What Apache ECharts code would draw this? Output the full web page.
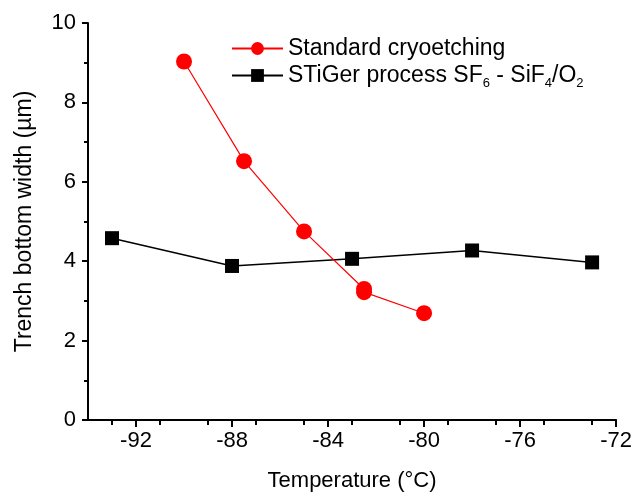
<!DOCTYPE html>
<html><head><meta charset="utf-8">
<script src="https://cdn.jsdelivr.net/npm/echarts@6/dist/echarts.min.js"></script>
<style>html,body{margin:0;padding:0;background:#fff}#c{width:635px;height:497px}</style>
</head><body><div id="c"></div>
<script>
var stdTemp = [-90, -87.5, -85, -82.5, -82.5, -80];
var stdWidth = [9.03, 6.52, 4.75, 3.3, 3.22, 2.69];
var stigerTemp = [-93, -88, -83, -78, -73];
var stigerWidth = [4.58, 3.88, 4.06, 4.27, 3.97];
var xTicks = [-92, -88, -84, -80, -76, -72];
var yTicks = [0, 2, 4, 6, 8, 10];

var font = '"Liberation Sans", Arial, sans-serif';
var chart = echarts.init(document.getElementById('c'));
function pair(xs, ys){ return xs.map(function(x,i){ return [x, ys[i]]; }); }
chart.setOption({
  animation: false,
  backgroundColor: '#fff',
  grid: {left: 88, right: 18, top: 23, bottom: 75},
  legend: {
    orient: 'vertical', left: 226, top: 32, itemWidth: 51, itemHeight: 16, itemGap: 4,
    textStyle: {fontFamily: font, fontSize: 23, color: '#000',
      rich: {a: {fontFamily: font, fontSize: 23, color: '#000'},
             s: {fontFamily: font, fontSize: 13, color: '#000', padding: [15, 0, 0, 0]}}},
    formatter: function(n){
      if (n === 'STiGer') return '{a|STiGer process SF}{s|6}{a| - SiF}{s|4}{a|/O}{s|2}';
      return '{a|' + n + '}';
    },
    data: ['Standard cryoetching', 'STiGer']
  },
  xAxis: {
    type: 'value', min: -94, max: -72, interval: 4,
    name: 'Temperature (°C)', nameLocation: 'middle', nameGap: 50,
    nameTextStyle: {fontFamily: font, fontSize: 22, color: '#000'},
    axisLine: {onZero: false, lineStyle: {color: '#000', width: 2}},
    axisTick: {show: true, length: 7, inside: false, lineStyle: {color: '#000', width: 2},
      customValues: xTicks},
    minorTick: {show: true, splitNumber: 4, length: 5, lineStyle: {color: '#000', width: 2}},
    axisLabel: {fontFamily: font, fontSize: 22, color: '#000', margin: 10, customValues: xTicks},
    splitLine: {show: false}
  },
  yAxis: {
    type: 'value', min: 0, max: 10, interval: 2,
    name: 'Trench bottom width (µm)', nameLocation: 'middle', nameGap: 52,
    nameTextStyle: {fontFamily: font, fontSize: 23, color: '#000'},
    axisLine: {show: true, lineStyle: {color: '#000', width: 2}},
    axisTick: {show: true, length: 6, lineStyle: {color: '#000', width: 2}},
    minorTick: {show: true, splitNumber: 2, length: 4, lineStyle: {color: '#000', width: 2}},
    axisLabel: {fontFamily: font, fontSize: 22, color: '#000', margin: 12},
    splitLine: {show: false}
  },
  series: [
    {name: 'STiGer', type: 'line', data: pair(stigerTemp, stigerWidth),
     symbol: 'rect', symbolSize: 14, itemStyle: {color: '#000'},
     lineStyle: {color: '#000', width: 1.5}, z: 2},
    {name: 'Standard cryoetching', type: 'line', data: pair(stdTemp, stdWidth),
     symbol: 'circle', symbolSize: 16, itemStyle: {color: '#ff0000'},
     lineStyle: {color: '#ff0000', width: 1.2}, z: 3}
  ]
});
</script></body></html>
